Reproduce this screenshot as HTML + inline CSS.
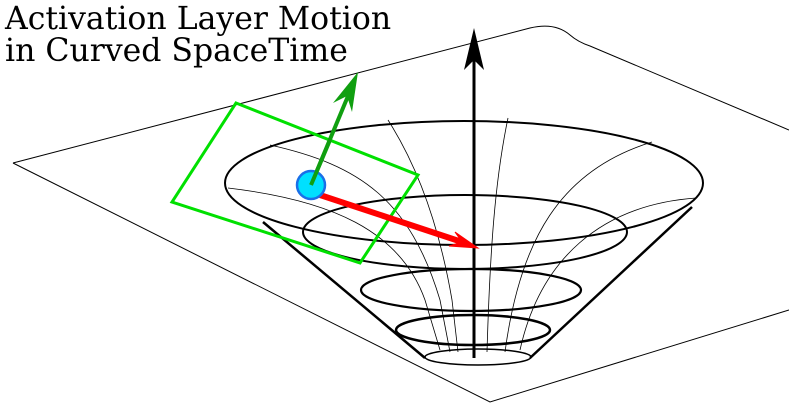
<!DOCTYPE html>
<html><head><style>body{margin:0;background:#fff}svg{display:block}</style></head><body>
<svg width="789" height="420" viewBox="0 0 789 420" xmlns="http://www.w3.org/2000/svg">
<text x="5" y="29" font-family="DejaVu Serif, serif" font-size="31.5" fill="#000">Activation Layer Motion</text>
<text x="5" y="61" font-family="DejaVu Serif, serif" font-size="31.5" fill="#000">in Curved SpaceTime</text>
<g fill="none" stroke="#000" stroke-width="1">
<path d="M13,163 L530,28 Q555,22 570,35 Q578,42 590,46 L789,130"/>
<path d="M13,163 L490,402 L789,310"/>
</g>
<g fill="none" stroke="#000">
<path d="M263,222 L425,358" stroke-width="2.5"/>
<path d="M692,207 L530,358" stroke-width="2.5"/>
<ellipse cx="464" cy="183" rx="239" ry="62" stroke-width="2"/>
<ellipse cx="465" cy="232" rx="162" ry="37" stroke-width="2"/>
<ellipse cx="471" cy="290" rx="110" ry="21" stroke-width="2.2"/>
<ellipse cx="473" cy="330" rx="77" ry="15" stroke-width="2.5"/>
<ellipse cx="478" cy="357" rx="53" ry="8" stroke-width="1.5"/>
<g stroke-width="0.8">
<path d="M228,188 C330,200 400,230 425,300 L440,350"/>
<path d="M270,145 C360,165 410,200 440,300 L450,352"/>
<path d="M388,120 C420,170 440,230 452,300 L458,352"/>
<path d="M508,118 C495,180 490,250 487,352"/>
<path d="M652,142 C560,170 520,240 505,352"/>
<path d="M696,198 C600,205 540,260 520,350"/>
</g>
<path d="M474,358 L474,45" stroke-width="3"/>
</g>
<path d="M474,28 L464,70 L474,60 L484,70 Z" fill="#000"/>
<polygon points="236,103 418,175 360,263 172,202" fill="none" stroke="#00e000" stroke-width="3"/>
<path d="M311,185 L348,96" stroke="#109f10" stroke-width="4"/>
<path d="M358,72 L333,103 L347,96 L352,112 Z" fill="#109f10"/>
<path d="M320,195 L465,243" stroke="#ff0000" stroke-width="6"/>
<path d="M478,248 L455,232 L462,242 L449,246 Z" fill="#ff0000" stroke="#ff0000"/>
<circle cx="311" cy="185" r="14" fill="#00e0ff" stroke="#1a6fe8" stroke-width="2.5"/>
<path d="M311,185 L330,140" stroke="#109f10" stroke-width="4"/>
</svg>
</body></html>
